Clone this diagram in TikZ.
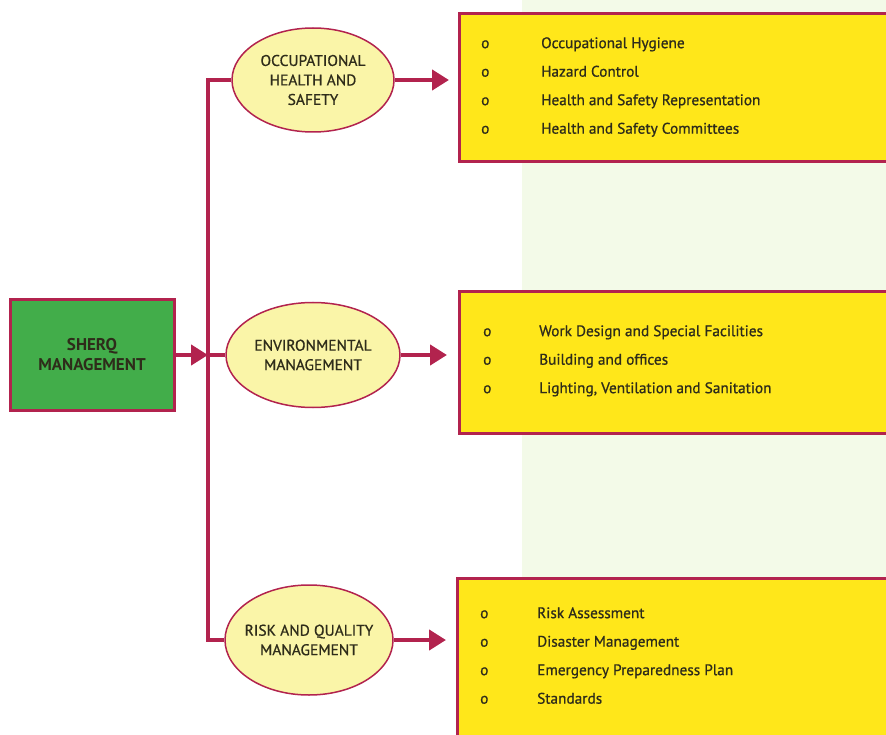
\documentclass[tikz,border=0pt]{standalone}
\usepackage{fontspec}
\setmainfont{PT Sans}
\newfontface\medface{PT Sans}[FakeBold=0.8]
\usepackage{tikz}
\usetikzlibrary{shapes.geometric,arrows.meta,positioning}
\definecolor{sqcrimson}{HTML}{B2234E}
\definecolor{sqgreen}{HTML}{42AD4A}
\definecolor{sqcream}{HTML}{FAF5A8}
\definecolor{sqyellow}{HTML}{FFE71A}
\definecolor{sqbg}{HTML}{F3FAE8}
\definecolor{sqtext}{HTML}{2E2C1A}

\begin{document}
\begin{tikzpicture}[
    x=1pt, y=-1pt,
    every node/.style={font=\medface\fontsize{15.5}{19.5}\selectfont, text=sqtext},
    hub/.style={draw=sqcrimson, line width=3pt, fill=sqgreen, minimum width=164pt, minimum height=110pt, align=center, font=\bfseries\fontsize{17}{20}\selectfont},
    area/.style={ellipse, draw=sqcrimson, line width=1.5pt, fill=sqcream, inner sep=0pt, align=center},
    topicbox/.style={draw=sqcrimson, line width=3pt, fill=sqyellow, minimum width=460pt, anchor=north west},
    topics/.style={inner sep=0pt, font=\medface\fontsize{15.3}{28.5}\selectfont},
    link/.style={sqcrimson, line width=4.5pt},
    arrow/.style={link, -{Triangle[length=17pt,width=20pt]}}
]
    \useasboundingbox (0,0) rectangle (886,735);
    \clip (0,0) rectangle (886,735);
    \fill[sqbg] (522,0) rectangle (886,735);

    \node[hub] (sherq) at (92,355) {SHERQ\\MANAGEMENT};
    \node[area, minimum width=162pt, minimum height=104pt] (ohs) at (313,80) {OCCUPATIONAL\\HEALTH AND\\SAFETY};
    \node[area, minimum width=174pt, minimum height=105pt] (env) at (313,355) {ENVIRONMENTAL\\MANAGEMENT};
    \node[area, inner xsep=-9pt, minimum width=168pt, minimum height=110pt] (rqm) at (309,640) {RISK AND QUALITY\\MANAGEMENT};

    \node[topicbox, minimum height=148pt] (ohsbox) at (458,12) {};
    \node[topicbox, minimum height=142pt] (envbox) at (458,290) {};
    \node[topicbox, minimum height=180pt] (rqmbox) at (456,577) {};

    \node[topics, below right=16pt and 23pt of ohsbox.north west] (ohslist) {%
        \begin{tabular}{@{}p{60pt}@{}l@{}}
        o & Occupational Hygiene\\
        o & Hazard Control\\
        o & Health and Safety Representation\\
        o & Health and Safety Committees
        \end{tabular}};
    \node[topics, below right=26pt and 25pt of envbox.north west] (envlist) {%
        \begin{tabular}{@{}p{56pt}@{}l@{}}
        o & Work Design and Special Facilities\\
        o & Building and offices\\
        o & Lighting, Ventilation and Sanitation
        \end{tabular}};
    \node[topics, below right=21pt and 24pt of rqmbox.north west] (rqmlist) {%
        \begin{tabular}{@{}p{57pt}@{}l@{}}
        o & Risk Assessment\\
        o & Disaster Management\\
        o & Emergency Preparedness Plan\\
        o & Standards
        \end{tabular}};

    % trunk from the hub to the three areas
    \coordinate (trunk) at (208,355);
    \draw[link] (ohs.west) -| (trunk) |- (rqm.west);
    \draw[arrow] (sherq.east) -- (trunk);
    \draw[link] (trunk) -- (env.west);

    \draw[arrow, shorten >=9pt] (ohs.east) -- (ohs.east -| ohsbox.west);
    \draw[arrow, shorten >=11pt] (env.east) -- (env.east -| envbox.west);
    \draw[arrow, shorten >=10pt] (rqm.east) -- (rqm.east -| rqmbox.west);
\end{tikzpicture}
\end{document}
